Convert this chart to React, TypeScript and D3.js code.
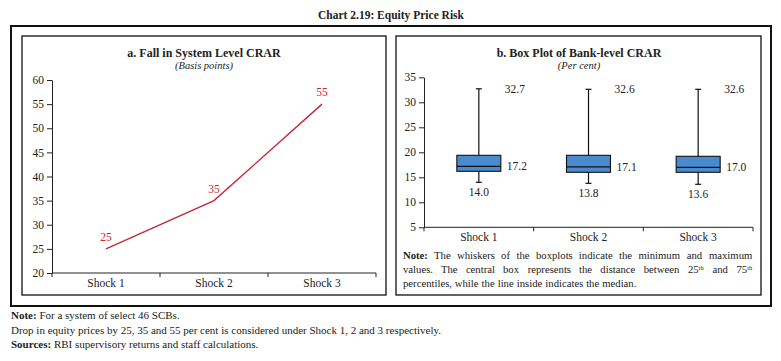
import React, { useEffect, useRef } from "react";
import * as d3 from "d3";

// data
const categories = ["Shock 1", "Shock 2", "Shock 3"];
const fallInCRAR = [25, 35, 55];
const leftTicks = [20, 25, 30, 35, 40, 45, 50, 55, 60];

const boxMin = [14.0, 13.8, 13.6];
const boxQ1 = [16.2, 16.0, 16.0];
const boxMedian = [17.2, 17.1, 17.0];
const boxQ3 = [19.4, 19.4, 19.2];
const boxMax = [32.7, 32.6, 32.6];
const rightTicks = [5, 10, 15, 20, 25, 30, 35];

const FONT = "'Liberation Serif', 'Times New Roman', serif";
const TEXT = "#222";
const RED = "#c8283a";
const BLUE = "#4a8bd0";

type Run = { t: string; bold?: boolean; sup?: boolean };

const noteLines: Run[][][] = [
  [
    [{ t: "Note:", bold: true }],
    [{ t: "The" }], [{ t: "whiskers" }], [{ t: "of" }], [{ t: "the" }], [{ t: "boxplots" }],
    [{ t: "indicate" }], [{ t: "the" }], [{ t: "minimum" }], [{ t: "and" }], [{ t: "maximum" }],
  ],
  [
    [{ t: "values." }], [{ t: "The" }], [{ t: "central" }], [{ t: "box" }], [{ t: "represents" }],
    [{ t: "the" }], [{ t: "distance" }], [{ t: "between" }],
    [{ t: "25" }, { t: "th", sup: true }], [{ t: "and" }], [{ t: "75" }, { t: "th", sup: true }],
  ],
  [
    [{ t: "percentiles," }], [{ t: "while" }], [{ t: "the" }], [{ t: "line" }], [{ t: "inside" }],
    [{ t: "indicates" }], [{ t: "the" }], [{ t: "median." }],
  ],
];

const App = () => {
  const ref = useRef<SVGSVGElement>(null);

  useEffect(() => {
    draw();
  }, []);

  const draw = () => {
    const svg = d3.select(ref.current);
    svg.selectAll("*").remove();
    svg.attr("font-family", FONT);

    // frames
    svg.append("rect").attr("x", 11).attr("y", 26).attr("width", 760).attr("height", 280)
      .attr("fill", "none").attr("stroke", "#111").attr("stroke-width", 2);
    svg.append("rect").attr("x", 22).attr("y", 36).attr("width", 364).attr("height", 259)
      .attr("fill", "none").attr("stroke", "#111").attr("stroke-width", 1.3);
    svg.append("rect").attr("x", 396).attr("y", 36).attr("width", 365).attr("height", 259)
      .attr("fill", "none").attr("stroke", "#111").attr("stroke-width", 1.3);

    // main title
    svg.append("text").attr("x", 391).attr("y", 19).attr("text-anchor", "middle")
      .attr("font-size", 11.5).attr("font-weight", "bold").attr("fill", TEXT)
      .text("Chart 2.19: Equity Price Risk");

    // ---- panel a ----
    svg.append("text").attr("x", 204).attr("y", 57).attr("text-anchor", "middle")
      .attr("font-size", 12).attr("font-weight", "bold").attr("fill", TEXT)
      .text("a. Fall in System Level CRAR");
    svg.append("text").attr("x", 204).attr("y", 69).attr("text-anchor", "middle")
      .attr("font-size", 10.5).attr("font-style", "italic").attr("fill", TEXT)
      .text("(Basis points)");

    const xA = d3.scaleBand().domain(categories).range([52, 376]);
    const yA = d3.scaleLinear().domain([20, 60]).range([273, 80]);
    drawAxes(svg, xA, yA, leftTicks, 52, 273);

    const line = d3.line<number>()
      .x((d, i) => xA(categories[i])! + xA.bandwidth() / 2)
      .y((d) => yA(d));
    svg.append("path").datum(fallInCRAR).attr("d", line)
      .attr("fill", "none").attr("stroke", RED).attr("stroke-width", 1.4);
    svg.append("g").selectAll("text").data(fallInCRAR).join("text")
      .attr("x", (d, i) => xA(categories[i])! + xA.bandwidth() / 2)
      .attr("y", (d) => yA(d) - 8)
      .attr("text-anchor", "middle").attr("font-size", 11.5).attr("fill", RED)
      .text((d) => d);

    // ---- panel b ----
    svg.append("text").attr("x", 579).attr("y", 57).attr("text-anchor", "middle")
      .attr("font-size", 12).attr("font-weight", "bold").attr("fill", TEXT)
      .text("b. Box Plot of Bank-level CRAR");
    svg.append("text").attr("x", 579).attr("y", 69).attr("text-anchor", "middle")
      .attr("font-size", 10.5).attr("font-style", "italic").attr("fill", TEXT)
      .text("(Per cent)");

    const xB = d3.scaleBand().domain(categories).range([424, 753]);
    const yB = d3.scaleLinear().domain([5, 35]).range([227.3, 77.3]);
    drawAxes(svg, xB, yB, rightTicks, 424, 227.3);

    const boxW = 44;
    const g = svg.append("g").selectAll("g").data(categories).join("g")
      .attr("transform", (d) => `translate(${xB(d)! + xB.bandwidth() / 2},0)`);
    g.append("line").attr("x1", 0).attr("x2", 0)
      .attr("y1", (d, i) => yB(boxMax[i])).attr("y2", (d, i) => yB(boxMin[i]))
      .attr("stroke", "#111").attr("stroke-width", 1.2);
    g.append("line").attr("x1", -3).attr("x2", 3)
      .attr("y1", (d, i) => yB(boxMax[i])).attr("y2", (d, i) => yB(boxMax[i]))
      .attr("stroke", "#111").attr("stroke-width", 1.2);
    g.append("line").attr("x1", -3).attr("x2", 3)
      .attr("y1", (d, i) => yB(boxMin[i])).attr("y2", (d, i) => yB(boxMin[i]))
      .attr("stroke", "#111").attr("stroke-width", 1.2);
    g.append("rect").attr("x", -boxW / 2).attr("width", boxW)
      .attr("y", (d, i) => yB(boxQ3[i])).attr("height", (d, i) => yB(boxQ1[i]) - yB(boxQ3[i]))
      .attr("fill", BLUE).attr("stroke", "#111").attr("stroke-width", 1.1);
    g.append("line").attr("x1", -boxW / 2).attr("x2", boxW / 2)
      .attr("y1", (d, i) => yB(boxMedian[i])).attr("y2", (d, i) => yB(boxMedian[i]))
      .attr("stroke", "#111").attr("stroke-width", 1.2);

    g.append("text").attr("x", 26).attr("y", (d, i) => yB(boxMax[i]) + 4)
      .attr("font-size", 11.5).attr("fill", TEXT).text((d, i) => boxMax[i].toFixed(1));
    g.append("text").attr("x", 28).attr("y", (d, i) => yB(boxMedian[i]) + 4)
      .attr("font-size", 11.5).attr("fill", TEXT).text((d, i) => boxMedian[i].toFixed(1));
    g.append("text").attr("x", 0).attr("y", (d, i) => yB(boxMin[i]) + 14)
      .attr("text-anchor", "middle").attr("font-size", 11.5).attr("fill", TEXT)
      .text((d, i) => boxMin[i].toFixed(1));

    // justified note inside panel b
    const noteLeft = 403;
    const noteRight = 753;
    const baselines = [259, 273, 287];
    noteLines.forEach((words, li) => {
      const nodes = words.map((runs) => {
        const t = svg.append("text").attr("y", baselines[li]).attr("font-size", 10.7).attr("fill", TEXT);
        runs.forEach((r) => {
          const ts = t.append("tspan").text(r.t);
          if (r.bold) ts.attr("font-weight", "bold");
          if (r.sup) ts.attr("font-size", 6.5).attr("baseline-shift", "super");
        });
        return t;
      });
      const widths = nodes.map((n) => (n.node() as SVGTextElement).getBBox().width);
      const total = d3.sum(widths);
      const last = li === noteLines.length - 1;
      const gap = last ? 2.8 : (noteRight - noteLeft - total) / (words.length - 1);
      let x = noteLeft;
      nodes.forEach((n, i) => {
        n.attr("x", x);
        x += widths[i] + gap;
      });
    });

    // footnotes
    const foot = [
      { b: "Note:", t: " For a system of select 46 SCBs.", y: 319 },
      { b: "", t: "Drop in equity prices by 25, 35 and 55 per cent is considered under Shock 1, 2 and 3 respectively.", y: 333.5 },
      { b: "Sources:", t: " RBI supervisory returns and staff calculations.", y: 348 },
    ];
    foot.forEach((f) => {
      const t = svg.append("text").attr("x", 11).attr("y", f.y).attr("font-size", 11).attr("fill", TEXT);
      if (f.b) t.append("tspan").attr("font-weight", "bold").text(f.b);
      t.append("tspan").text(f.t);
    });
  };

  const drawAxes = (svg: any, x: d3.ScaleBand<string>, y: d3.ScaleLinear<number, number>,
    ticks: number[], left: number, bottom: number) => {
    const yAxis = svg.append("g").attr("transform", `translate(${left},0)`)
      .call(d3.axisLeft(y).tickValues(ticks).tickSize(5).tickSizeOuter(0).tickPadding(3));
    yAxis.attr("font-family", FONT).attr("font-size", 11.5);
    yAxis.selectAll("path, line").attr("stroke", "#222");
    yAxis.selectAll("text").attr("fill", TEXT);

    const [x0, x1] = x.range();
    const xg = svg.append("g");
    xg.append("line").attr("x1", x0).attr("x2", x1).attr("y1", bottom).attr("y2", bottom)
      .attr("stroke", "#222");
    const bounds = [...x.domain().map((c) => x(c)!), x1];
    xg.selectAll("line.tick").data(bounds).join("line").attr("class", "tick")
      .attr("x1", (d: number) => d).attr("x2", (d: number) => d)
      .attr("y1", bottom).attr("y2", bottom + 4).attr("stroke", "#222");
    xg.selectAll("text").data(x.domain()).join("text")
      .attr("x", (d: string) => x(d)! + x.bandwidth() / 2).attr("y", bottom + 14)
      .attr("text-anchor", "middle").attr("font-size", 11.5).attr("fill", TEXT)
      .text((d: string) => d);
  };

  return (
    <svg ref={ref} width={781} height={361}
      style={{ position: "absolute", left: 0, top: 0, background: "#fff" }} />
  );
};

export default App;
